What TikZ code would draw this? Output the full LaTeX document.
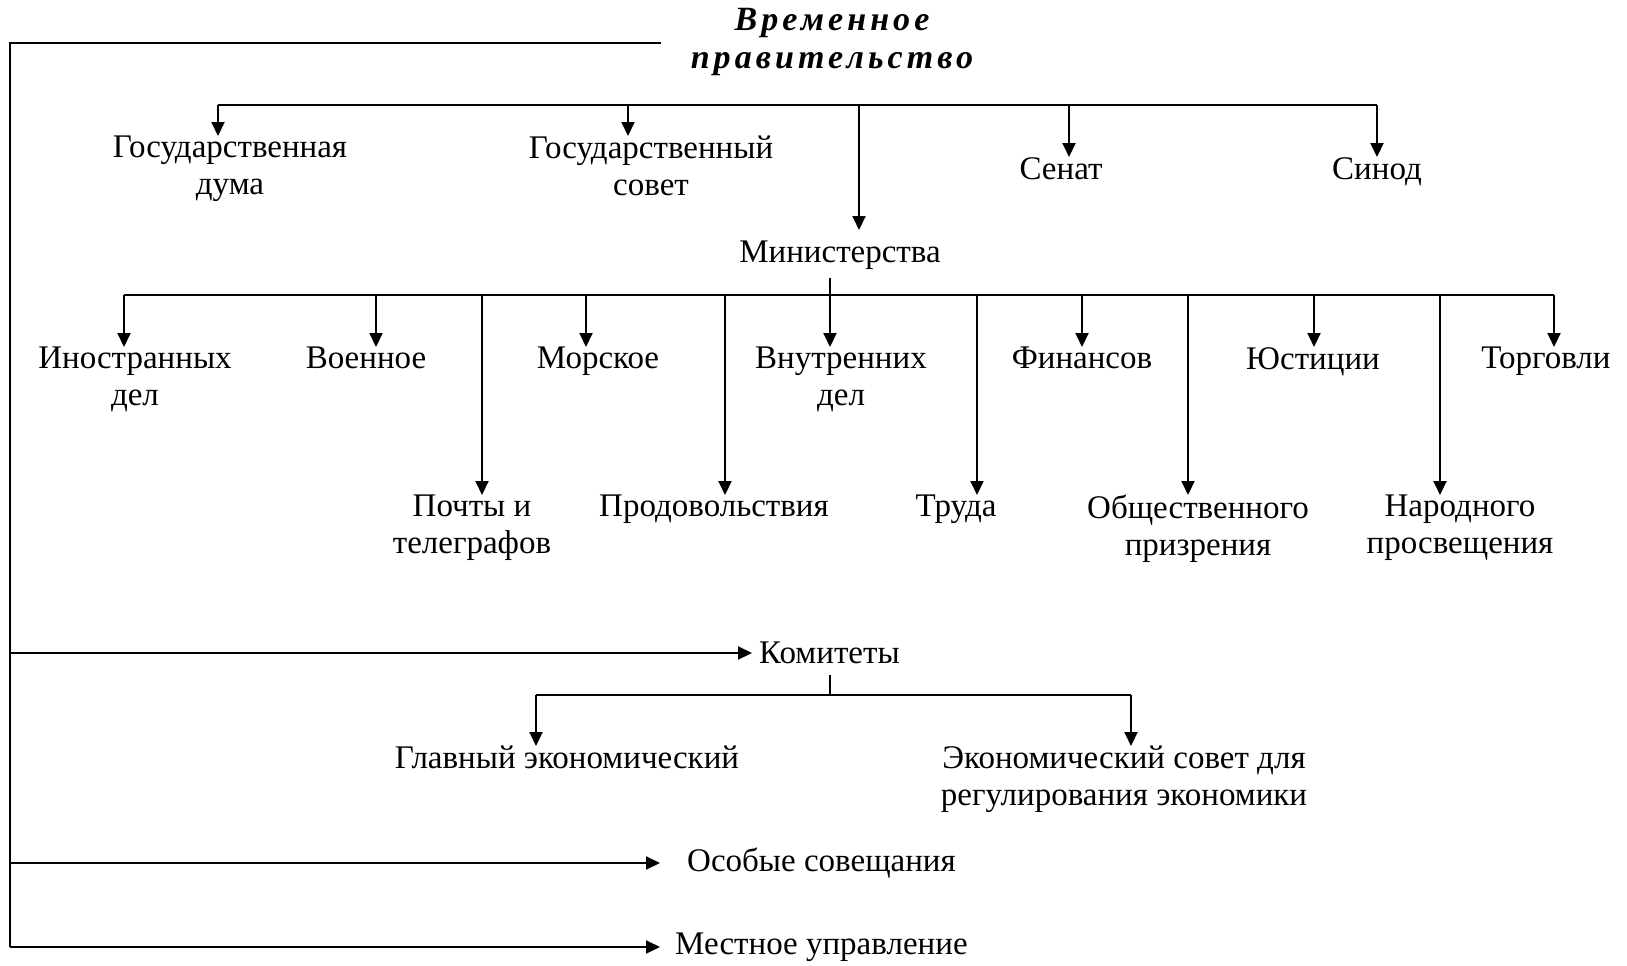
\documentclass[tikz,border=0pt]{standalone}
\usepackage{fontspec}
\setmainfont{Liberation Serif}
\newfontfamily\titlefont[LetterSpace=12]{Liberation Serif}
\usetikzlibrary{arrows.meta}
\tikzset{
  lbl/.style={font=\fontsize{33}{37}\selectfont, align=center, inner sep=0pt},
  ttl/.style={font=\titlefont\fontsize{34}{38}\selectfont\bfseries\itshape, align=center, inner sep=0pt},
  ln/.style={line width=2pt},
  arr/.style={line width=2pt, -{Triangle[length=14pt,width=13pt]}}
}
\begin{document}
\begin{tikzpicture}[x=1pt,y=-1pt]
\useasboundingbox (0,0) rectangle (1627,966);
% title
\node[ttl] (vp) at (832,42) {Временное\\правительство};
% left spine
\coordinate (L0) at (10,43);
\coordinate (L1) at (10,653);
\coordinate (L2) at (10,863);
\coordinate (L3) at (10,947);
\coordinate (T0) at (661,43);
\draw[ln] (T0) -- (L0) -- (L3);
% top bar
\coordinate (tb1) at (218,105);
\coordinate (tb2) at (628,105);
\coordinate (tbc) at (859,105);
\coordinate (tb3) at (1069,105);
\coordinate (tb4) at (1377,105);
\draw[ln] (tb1) -- (tb4);
\node[lbl,anchor=north] (gd) at (230,136) {Государственная\\дума};
\node[lbl,anchor=north] (gs) at (651,136) {Государственный\\совет};
\node[lbl,anchor=north] (sen) at (1061,157) {Сенат};
\node[lbl,anchor=north] (sin) at (1377,157) {Синод};
\node[lbl,anchor=north] (min) at (840,241) {Министерства};
\draw[arr] (tb1) -- (tb1 |- gd.north);
\draw[arr] (tb2) -- (tb2 |- gs.north);
\draw[arr] (tb3) -- (tb3 |- sen.north);
\draw[arr] (tb4) -- (tb4 |- sin.north);
\draw[arr,shorten >=11pt] (tbc) -- (tbc |- min.north);
% ministries bar
\coordinate (mc) at (830,295);
\coordinate (m1) at (124,295);
\coordinate (m2) at (376,295);
\coordinate (m3) at (482,295);
\coordinate (m4) at (586,295);
\coordinate (m5) at (725,295);
\coordinate (m6) at (830,295);
\coordinate (m7) at (977,295);
\coordinate (m8) at (1082,295);
\coordinate (m9) at (1188,295);
\coordinate (m10) at (1314,295);
\coordinate (m11) at (1440,295);
\coordinate (m12) at (1554,295);
\draw[ln] (m1) -- (m12);
\draw[ln,shorten <=8pt] (mc |- min.south) -- (mc);
\node[lbl,anchor=north] (n1) at (135,347) {Иностранных\\дел};
\node[lbl,anchor=north] (n2) at (366,347) {Военное};
\node[lbl,anchor=north] (n3) at (472,495) {Почты и\\телеграфов};
\node[lbl,anchor=north] (n4) at (598,347) {Морское};
\node[lbl,anchor=north] (n5) at (714,495) {Продовольствия};
\node[lbl,anchor=north] (n6) at (841,347) {Внутренних\\дел};
\node[lbl,anchor=north] (n7) at (956,495) {Труда};
\node[lbl,anchor=north] (n8) at (1082,347) {Финансов};
\node[lbl,anchor=north] (n9) at (1198,495) {Общественного\\призрения};
\node[lbl,anchor=north] (n10) at (1313,347) {Юстиции};
\node[lbl,anchor=north] (n11) at (1460,495) {Народного\\просвещения};
\node[lbl,anchor=north] (n12) at (1546,347) {Торговли};
\foreach \i in {1,...,12}{\draw[arr] (m\i) -- (m\i |- n\i.north);}
% committees
\node[lbl,anchor=west] (kom) at (759,653) {Комитеты};
\draw[arr,shorten >=7pt] (L1) -- (kom.west);
\coordinate (kc) at (830,695);
\coordinate (k1) at (536,695);
\coordinate (k2) at (1131,695);
\draw[ln] (830,675) -- (kc);
\draw[ln] (k1) -- (k2);
\node[lbl,anchor=north] (ge) at (567,746) {Главный экономический};
\node[lbl,anchor=north] (es) at (1124,746) {Экономический совет для\\регулирования экономики};
\draw[arr] (k1) -- (k1 |- ge.north);
\draw[arr] (k2) -- (k2 |- es.north);
% special
\node[lbl,anchor=west] (os) at (687,863) {Особые совещания};
\draw[arr,shorten >=27pt] (L2) -- (os.west);
\node[lbl,anchor=west] (mu) at (675,947) {Местное управление};
\draw[arr,shorten >=15pt] (L3) -- (mu.west);
\end{tikzpicture}
\end{document}
